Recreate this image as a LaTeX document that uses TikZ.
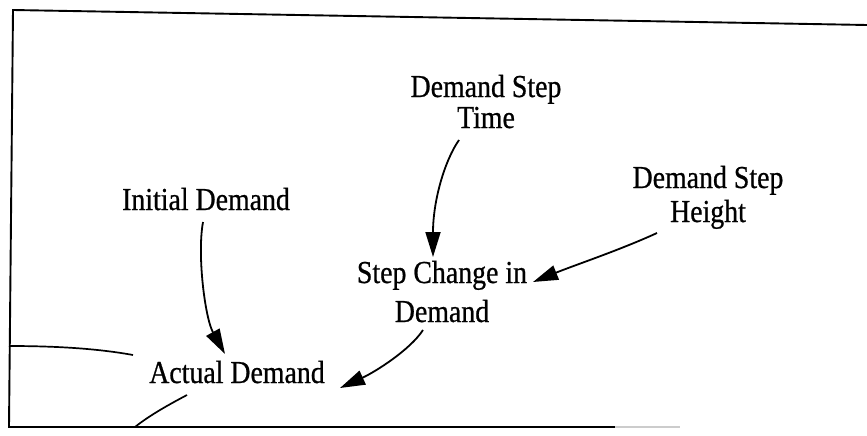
\documentclass[tikz,border=0pt]{standalone}
\usepackage{fontspec}
\setmainfont{Liberation Serif}[FakeStretch=0.87,FakeBold=0.7]
\usetikzlibrary{arrows.meta,calc}
\begin{document}
\begin{tikzpicture}[x=1pt,y=-1pt,
  var/.style={font=\fontsize{32}{34}\selectfont, align=center, inner sep=0pt, anchor=base},
  link/.style={line width=1.8pt, -{Triangle[length=25pt,width=15pt]}},
  frame/.style={line width=1.9pt},
  pipe/.style={line width=1.7pt}]
\useasboundingbox (0,0) rectangle (867,436);

% border of the view
\coordinate (tl) at (13,10);
\coordinate (tr) at (867,25);
\coordinate (bl) at (9,427);
\coordinate (br) at (615,427);
\coordinate (bf) at (680,427);
\draw[frame] (tr) -- (tl) -- (bl) -- (br);
\draw[frame, black!20] (br) -- (bf);

% variables (base anchor sits on the last line)
\node[var, font=\fontsize{32}{31}\selectfont] (dst) at (486,128) {Demand Step\\Time};
\node[var] (ini) at (206,210) {Initial Demand};
\node[var] (dsh) at (708,222) {Demand Step\\Height};
\node[var, font=\fontsize{32}{39}\selectfont] (scd) at (442,322) {Step Change in\\Demand};
\node[var] (ad)  at (237,383) {Actual Demand};

% stock-flow pipe ends entering from the left
\coordinate (p1) at (9,346);
\coordinate (p2) at (133,355);
\coordinate (p3) at (135,427);
\coordinate (p4) at (187,395);
\draw[pipe] (p1) .. controls (60,346) and (100,349) .. (p2);
\draw[pipe] (p3) .. controls (150,415) and (170,404) .. (p4);

% causal links
\draw[link] ($(ini.base)+(-3,12)$) .. controls (197,255) and (205,318) .. ($(ad.base)+(-12,-29)$);
\draw[link] ($(dst.base)+(-27,12)$) .. controls (445,160) and (433,200) .. ($(scd.base)+(-9,-65)$);
\draw[link] ($(dsh.base)+(-51,11)$) .. controls (620,250) and (575,265) .. ($(scd.base)+(91,-40)$);
\draw[link] ($(scd.base)+(-19,8)$) .. controls (410,350) and (375,372) .. ($(ad.base)+(103,5)$);
\end{tikzpicture}
\end{document}
